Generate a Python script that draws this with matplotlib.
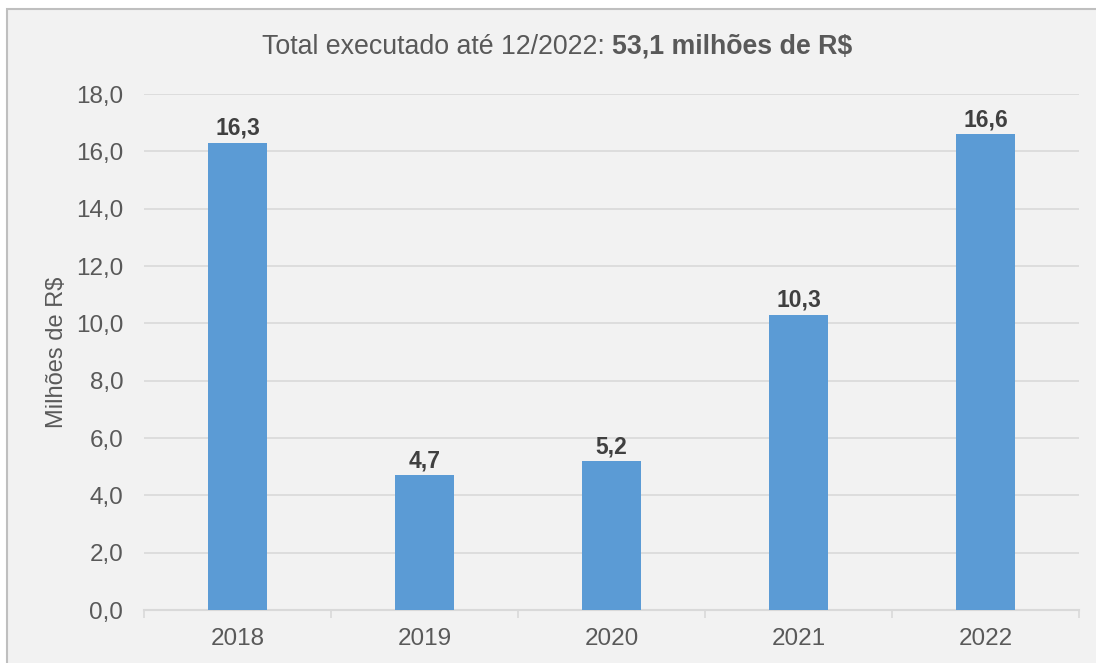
import matplotlib.pyplot as plt
import matplotlib.ticker as ticker
from matplotlib.patches import Rectangle

plt.rcParams['font.family'] = ['Liberation Sans', 'DejaVu Sans']

# Executed amount per year (millions of R$)
years = ['2018', '2019', '2020', '2021', '2022']
values = [16.3, 4.7, 5.2, 10.3, 16.6]
total_label = '53,1 milhões de R$'

BAR_COLOR = '#5b9bd5'
TEXT_COLOR = '#595959'
LABEL_COLOR = '#404040'
GRID_COLOR = '#d9d9d9'
BG_COLOR = '#f2f2f2'

W, H = 1096, 663
fig = plt.figure(figsize=(W / 100, H / 100), dpi=100, facecolor='white')

# chart area background with a thin border (runs off the right and bottom edges)
fig.patches.append(Rectangle((7 / W, -0.05), 1.1, 1 - 9 / H + 0.05,
                             transform=fig.transFigure, facecolor=BG_COLOR,
                             edgecolor='#bfbfbf', linewidth=1.5, zorder=-5))

ax = fig.add_axes([144 / W, 53 / H, (1079 - 144) / W, 516 / H])
ax.set_facecolor('none')

x = range(len(years))
bars = ax.bar(x, values, width=0.315, color=BAR_COLOR, zorder=3)

for xi, v in zip(x, values):
    ax.annotate(f'{v:.1f}'.replace('.', ','), xy=(xi, v), xytext=(0, 2),
                textcoords='offset points', ha='center', va='bottom',
                fontsize=16.5, fontweight='bold', color=LABEL_COLOR)

ax.set_xlim(-0.5, len(years) - 0.5)
ax.set_ylim(0, 18)
ax.yaxis.set_major_locator(ticker.MultipleLocator(2))
ax.yaxis.set_major_formatter(ticker.FuncFormatter(lambda v, p: f'{v:.1f}'.replace('.', ',')))
ax.grid(axis='y', color=GRID_COLOR, linewidth=1.2, zorder=0)
ax.set_axisbelow(True)

ax.set_xticks(list(x))
ax.set_xticklabels(years)
ax.set_xticks([i - 0.5 for i in range(len(years) + 1)], minor=True)
ax.tick_params(axis='x', which='major', length=0, pad=13, labelsize=17.5, labelcolor=TEXT_COLOR)
ax.tick_params(axis='x', which='minor', length=6, width=1.2, color=GRID_COLOR)
ax.tick_params(axis='y', length=0, pad=15, labelsize=17.5, labelcolor=TEXT_COLOR)

for side in ['top', 'right', 'left']:
    ax.spines[side].set_visible(False)
ax.spines['bottom'].set_color(GRID_COLOR)
ax.spines['bottom'].set_linewidth(1.5)

fig.text(57 / W, 1 - 352 / H, 'Milhões de R$', rotation=90, ha='center', va='center',
         fontsize=17, color=TEXT_COLOR)

# title: plain part followed by the bold total
t1 = fig.text(262 / W, 1 - 47 / H, 'Total executado até 12/2022: ', fontsize=19.3,
              color=TEXT_COLOR, ha='left', va='center')
fig.canvas.draw()
fig.add_artist(plt.Annotation(total_label, xy=(1, 0), xycoords=t1, ha='left', va='bottom',
                              fontsize=19.3, fontweight='bold', color=TEXT_COLOR))

plt.savefig('out.png', dpi=100, facecolor='white')
